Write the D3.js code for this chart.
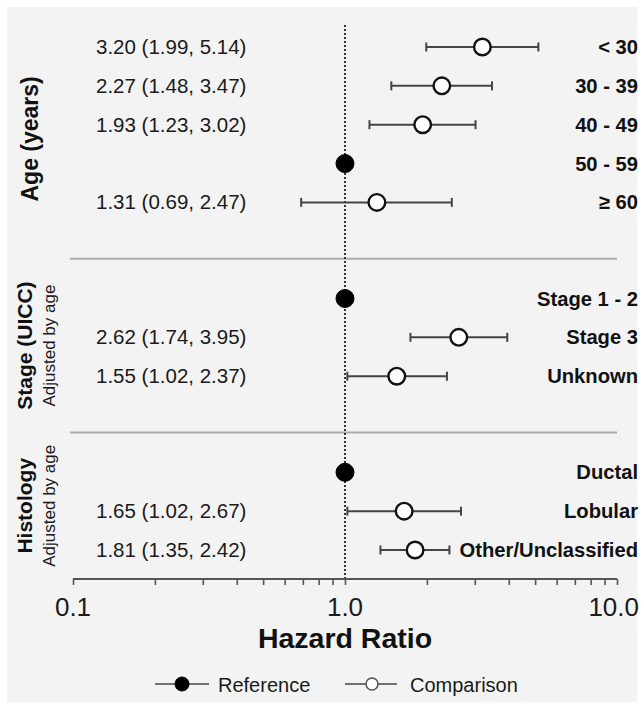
<!DOCTYPE html>
<html>
<head>
<meta charset="utf-8">
<script src="https://cdn.jsdelivr.net/npm/d3@7"></script>
<style>
  html, body { margin: 0; padding: 0; background: #ffffff; }
  svg { display: block; font-family: "Liberation Sans", Arial, Helvetica, sans-serif; }
</style>
</head>
<body>
<svg id="chart" width="644" height="709"></svg>
<script>
// Hazard ratios with 95% confidence intervals
const groupNames = ["Age (years)", "Stage (UICC)", "Histology"];
const groupNotes = ["", "Adjusted by age", "Adjusted by age"];
const categories = ["< 30", "30 - 39", "40 - 49", "50 - 59", "\u2265 60",
                    "Stage 1 - 2", "Stage 3", "Unknown",
                    "Ductal", "Lobular", "Other/Unclassified"];
const categoryGroup = [0, 0, 0, 0, 0, 1, 1, 1, 2, 2, 2];
const hazardRatio = [3.20, 2.27, 1.93, 1.00, 1.31, 1.00, 2.62, 1.55, 1.00, 1.65, 1.81];
const ciLower = [1.99, 1.48, 1.23, null, 0.69, null, 1.74, 1.02, null, 1.02, 1.35];
const ciUpper = [5.14, 3.47, 3.02, null, 2.47, null, 3.95, 2.37, null, 2.67, 2.42];
const isReference = [false, false, false, true, false, true, false, false, true, false, false];
const xTickValues = [0.1, 1, 10];
const xTickLabels = ["0.1", "1.0", "10.0"];
const legendLabels = ["Reference", "Comparison"];

const svg = d3.select("#chart");

// panel background
svg.append("rect").attr("x", 7).attr("y", 7).attr("width", 630).attr("height", 695)
  .attr("fill", "#f3f3f3");

const x = d3.scaleLog().domain([0.1, 10]).range([73, 617]);

// row slots: rows within a group are one slot apart, groups are separated by a wider gap
const groupGap = 2.474;
const slots = [];
{
  let s = 0;
  categories.forEach((c, i) => {
    if (i > 0) s += (categoryGroup[i] !== categoryGroup[i - 1]) ? groupGap : 1;
    slots.push(s);
  });
}
const y = d3.scaleLinear().domain([0, slots[slots.length - 1]]).range([47, 550]);

const axisY = 579;
const plotTop = 25;

const rows = categories.map((c, i) => ({
  label: c, group: categoryGroup[i], hr: hazardRatio[i],
  lo: ciLower[i], hi: ciUpper[i], ref: isReference[i], y: y(slots[i])
}));

// separators between groups
const lastSlotOfGroup = groupNames.map((g, gi) => d3.max(slots.filter((s, i) => categoryGroup[i] === gi)));
const sepY = lastSlotOfGroup.slice(0, -1).map(s => y(s + 1.45));
svg.selectAll("line.sep").data(sepY).join("line")
  .attr("class", "sep")
  .attr("x1", 70).attr("x2", 617)
  .attr("y1", d => d).attr("y2", d => d)
  .attr("stroke", "#ababab").attr("stroke-width", 2);

// reference line at HR = 1
svg.append("line")
  .attr("x1", x(1)).attr("x2", x(1))
  .attr("y1", plotTop).attr("y2", axisY)
  .attr("stroke", "#333").attr("stroke-width", 2)
  .attr("stroke-dasharray", "2,2");

// x axis
const axis = d3.axisBottom(x)
  .tickValues(d3.range(1, 10).map(d => d / 10).concat(d3.range(1, 11)))
  .tickSize(6)
  .tickFormat("");
const gAxis = svg.append("g").attr("transform", `translate(0,${axisY})`).call(axis);
gAxis.select(".domain").attr("stroke", "#555").attr("stroke-width", 2).attr("d", `M${x(0.1)},0H${x(10)}`);
gAxis.selectAll(".tick line").attr("stroke", "#555").attr("stroke-width", 1.6);

svg.selectAll("text.xtick").data(xTickValues).join("text")
  .attr("class", "xtick")
  .attr("x", (d, i) => i === 2 ? 639 : x(d))
  .attr("y", 616)
  .attr("text-anchor", (d, i) => i === 2 ? "end" : "middle")
  .attr("font-size", 26)
  .attr("fill", "#1a1a1a")
  .text((d, i) => xTickLabels[i]);

svg.append("text")
  .attr("x", x(1)).attr("y", 648)
  .attr("text-anchor", "middle")
  .attr("font-size", 28.5).attr("font-weight", "bold")
  .attr("fill", "#111")
  .text("Hazard Ratio");

// confidence intervals
const ci = rows.filter(d => d.lo !== null);
const g = svg.append("g");
g.selectAll("line.ci").data(ci).join("line")
  .attr("class", "ci")
  .attr("x1", d => x(d.lo)).attr("x2", d => x(d.hi))
  .attr("y1", d => d.y).attr("y2", d => d.y)
  .attr("stroke", "#444").attr("stroke-width", 2);
["lo", "hi"].forEach(k => {
  g.selectAll("line.cap-" + k).data(ci).join("line")
    .attr("class", "cap-" + k)
    .attr("x1", d => x(d[k])).attr("x2", d => x(d[k]))
    .attr("y1", d => d.y - 4.5).attr("y2", d => d.y + 4.5)
    .attr("stroke", "#444").attr("stroke-width", 2);
});

// point estimates
g.selectAll("circle.pt").data(rows).join("circle")
  .attr("class", "pt")
  .attr("cx", d => x(d.hr)).attr("cy", d => d.y)
  .attr("r", d => d.ref ? 9 : 8.3)
  .attr("fill", d => d.ref ? "#000" : "#fff")
  .attr("stroke", d => d.ref ? "#000" : "#111")
  .attr("stroke-width", d => d.ref ? 1 : 2.4);

// HR (95% CI) text
svg.selectAll("text.hr").data(ci).join("text")
  .attr("class", "hr")
  .attr("x", 96).attr("y", d => d.y + 7)
  .attr("font-size", 20.5).attr("fill", "#1a1a1a")
  .text(d => `${d.hr.toFixed(2)} (${d.lo.toFixed(2)}, ${d.hi.toFixed(2)})`);

// category labels
svg.selectAll("text.cat").data(rows).join("text")
  .attr("class", "cat")
  .attr("x", 638).attr("y", d => d.y + 7)
  .attr("text-anchor", "end")
  .attr("font-size", 20.2).attr("font-weight", "bold").attr("fill", "#111")
  .text(d => d.label);

// group labels, centred in each group's band
const bandEdges = [plotTop].concat(sepY).concat([axisY]);
groupNames.forEach((name, gi) => {
  const cy = (bandEdges[gi] + bandEdges[gi + 1]) / 2;
  const hasNote = groupNotes[gi] !== "";
  svg.append("text")
    .attr("transform", `translate(${hasNote ? 32 : 38},${cy - (hasNote ? 0 : 3)}) rotate(-90)`)
    .attr("text-anchor", "middle")
    .attr("font-size", hasNote ? 21 : 23).attr("font-weight", "bold").attr("fill", "#111")
    .text(name);
  if (hasNote) {
    svg.append("text")
      .attr("transform", `translate(55,${cy}) rotate(-90)`)
      .attr("text-anchor", "middle")
      .attr("font-size", 17).attr("fill", "#1a1a1a")
      .text(groupNotes[gi]);
  }
});

// legend
const legendY = 684;
const legendItems = [
  { label: legendLabels[0], x1: 155, x2: 209, cx: 182, ref: true, tx: 218 },
  { label: legendLabels[1], x1: 345, x2: 397, cx: 372, ref: false, tx: 410 }
];
const lg = svg.append("g");
lg.selectAll("line").data(legendItems).join("line")
  .attr("x1", d => d.x1).attr("x2", d => d.x2)
  .attr("y1", legendY).attr("y2", legendY)
  .attr("stroke", "#444").attr("stroke-width", 1.6);
lg.selectAll("circle").data(legendItems).join("circle")
  .attr("cx", d => d.cx).attr("cy", legendY)
  .attr("r", d => d.ref ? 7 : 6)
  .attr("fill", d => d.ref ? "#000" : "#fff")
  .attr("stroke", d => d.ref ? "#000" : "#555")
  .attr("stroke-width", d => d.ref ? 1 : 1.5);
lg.selectAll("text").data(legendItems).join("text")
  .attr("x", d => d.tx).attr("y", legendY + 8)
  .attr("font-size", 20).attr("fill", "#1a1a1a")
  .text(d => d.label);
</script>
</body>
</html>
